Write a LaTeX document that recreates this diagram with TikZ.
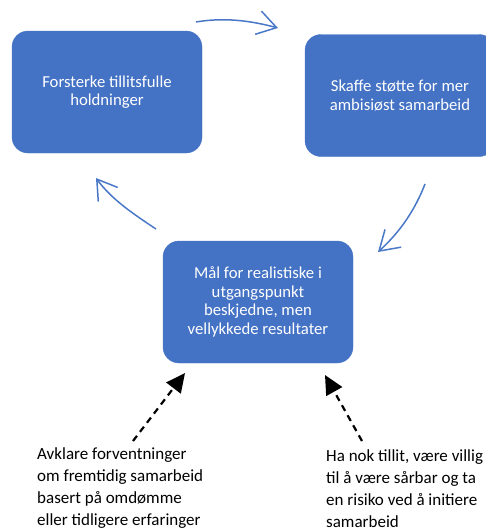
\documentclass[tikz,border=0pt]{standalone}
\usepackage{fontspec}
\setmainfont{Carlito}
\usetikzlibrary{arrows.meta}
\definecolor{boxblue}{HTML}{4472C4}
\definecolor{flowblue}{HTML}{4A78C8}
\begin{document}
\begin{tikzpicture}[x=1pt,y=-1pt,
  stepbox/.style={rounded corners=16pt, fill=boxblue, draw=boxblue, text=white,
    align=center, inner sep=0pt, minimum width=190pt, minimum height=122pt,
    font=\fontsize{16.7}{18.7}\selectfont},
  note/.style={align=left, inner sep=0pt, text=black,
    font=\fontsize{17}{22}\selectfont},
  flow/.style={flowblue, line width=1.5pt,
    -{Straight Barb[length=19pt, width=24pt]}},
  dasharrow/.style={black, line width=2.2pt, dash pattern=on 6.5pt off 5pt,
    -{Triangle[length=19pt, width=18pt]}}]
\clip (0,0) rectangle (486,531);

% the three stages of the cycle
\node[stepbox] (trust) at (107,92) {Forsterke tillitsfulle\\holdninger};
\node[stepbox] (support) at (400,95.5) {Skaffe støtte for mer\\ambisiøst samarbeid};
\node[stepbox] (goals) at (258,302) {Mål for realistiske i\\utgangspunkt\\beskjedne, men\\vellykkede resultater};

% preconditions
\node[note, anchor=north west] (expect) at (37,447)
  {Avklare forventninger\\om fremtidig samarbeid\\basert på omdømme\\eller tidligere erfaringer};
\node[note, anchor=north west] (risk) at (326,449)
  {Ha nok tillit, være villig\\til å være sårbar og ta\\en risiko ved å initiere\\samarbeid};

% cycle arrows
\coordinate (ts0) at (196,22);  \coordinate (ts1) at (278,28);
\coordinate (sg0) at (425,184); \coordinate (sg1) at (378,252);
\coordinate (gt0) at (156,229); \coordinate (gt1) at (96,178);
\draw[flow] (ts0) .. controls (225,17) and (252,21) .. (ts1);
\draw[flow] (sg0) .. controls (415,210) and (400,232) .. (sg1);
\draw[flow] (gt0) .. controls (135,215) and (112,200) .. (gt1);

% dashed arrows from the preconditions to the goals box
\coordinate (e0) at (133,441); \coordinate (e1) at (185,373);
\coordinate (r0) at (362,441); \coordinate (r1) at (325,375);
\draw[dasharrow] (e0) -- (e1);
\draw[dasharrow] (r0) -- (r1);
\end{tikzpicture}
\end{document}
